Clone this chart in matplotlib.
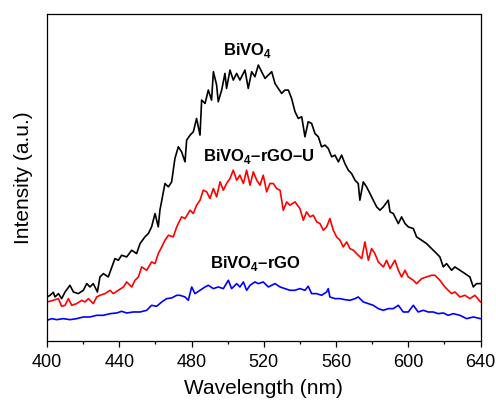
import matplotlib
matplotlib.use("Agg")
import matplotlib.pyplot as plt
from matplotlib.ticker import MultipleLocator

plt.rcParams['font.family'] = ['Liberation Sans', 'DejaVu Sans']
plt.rcParams['mathtext.fontset'] = 'custom'
plt.rcParams['mathtext.bf'] = 'Liberation Sans:bold'
plt.rcParams['mathtext.rm'] = 'Liberation Sans:bold'

# BiVO4
wl_bivo4 = [400, 401.7, 403.5, 404.4, 406.3, 408.1, 410, 412.7, 414.6, 417.3, 420.1, 422, 423.8, 425.6,
            427.9, 429.3, 431.2, 433.9, 437.6, 439.5, 441.3, 444.1, 446.9, 449.6, 451.5, 454.2, 456.1,
            457.9, 459.8, 461.6, 462.5, 465.3, 467.2, 469, 470.8, 472.7, 474.5, 476.4, 477.3, 479.2, 481,
            482.8, 484.7, 485.6, 487.5, 489.3, 491.1, 492.1, 493.9, 494.8, 496.7, 498.5, 499.4, 501.3,
            503.1, 505, 506.8, 509.6, 511.4, 513.3, 515.1, 517, 518.8, 520.7, 522.5, 524.4, 526.2, 528,
            529.9, 531.7, 533.6, 535.4, 537.3, 539.1, 541, 542.8, 544.6, 546.5, 548.3, 550.2, 552, 553.9,
            555.7, 557.6, 559.4, 561.3, 563.1, 564.9, 566.8, 568.6, 570.5, 572.3, 573.2, 575.1, 576.9,
            578.8, 580.6, 582.5, 584.3, 586.2, 588.9, 589.9, 591.7, 594.5, 596.3, 598.2, 600, 602.8, 604.6,
            607.4, 610.1, 612.9, 615.7, 617.5, 619.4, 621.2, 624, 625.8, 628.6, 631.4, 634.1, 636, 637.8, 640]
int_bivo4 = [132, 137, 146, 132, 142, 127, 147, 167, 147, 142, 152, 172, 162, 172,
             147, 192, 202, 192, 247, 242, 257, 252, 272, 262, 292, 312, 322,
             342, 382, 342, 392, 472, 462, 477, 547, 582, 567, 537, 602, 617, 627,
             667, 617, 722, 712, 752, 722, 807, 767, 717, 752, 802, 757, 812,
             782, 802, 782, 812, 757, 807, 792, 827, 807, 787, 797, 807, 772, 757,
             742, 752, 752, 727, 687, 667, 672, 612, 657, 652, 622, 612, 582, 587,
             577, 552, 557, 537, 557, 532, 512, 502, 482, 472, 422, 477, 462,
             442, 422, 402, 392, 402, 422, 387, 382, 352, 372, 352, 342, 337, 312,
             302, 292, 277, 262, 252, 222, 232, 212, 222, 212, 202, 192, 162, 172, 172]

# BiVO4-rGO-U
wl_rgo_u = [400, 403.5, 406.3, 408.1, 410, 411.8, 413.7, 416.4, 419.2, 421, 422.9, 425.6, 427.5, 429.3,
            432.1, 434.9, 436.7, 439.5, 442.3, 444.1, 446.9, 448.7, 450.6, 452.4, 455.2, 457.9, 459.8,
            461.6, 463.5, 465.3, 467.2, 469.9, 471.8, 474.5, 476.4, 479.2, 481, 482.8, 484.7, 486.5,
            488.4, 490.2, 492.1, 493.9, 495.8, 497.6, 499.4, 501.3, 503.1, 505, 506.8, 508.7, 510.5,
            512.4, 514.2, 516.1, 517.9, 519.7, 521.6, 523.4, 525.3, 527.1, 529, 530.8, 532.7, 534.5,
            537.3, 540, 541.9, 543.7, 545.6, 547.4, 549.3, 551.1, 553, 554.8, 556.6, 558.5, 560.3,
            562.2, 564, 565.9, 567.7, 569.6, 571.4, 574.2, 576, 577.9, 579.7, 581.5, 583.4, 586.2, 588,
            589.9, 592.6, 594.5, 596.3, 598.2, 600, 602.8, 604.6, 607.4, 610.1, 612.9, 614.8, 617.5,
            620.3, 622.1, 624, 625.8, 628.6, 631.4, 634.1, 636.9, 640]
int_rgo_u = [117, 122, 127, 104, 107, 127, 107, 112, 122, 117, 127, 112, 132, 137,
             142, 152, 142, 152, 162, 177, 162, 182, 192, 222, 212, 237, 232,
             262, 282, 302, 317, 312, 342, 372, 367, 392, 382, 407, 422, 452,
             447, 427, 457, 432, 477, 452, 472, 487, 512, 482, 497, 472, 512,
             467, 507, 482, 467, 497, 447, 472, 472, 457, 452, 392, 417, 407,
             417, 397, 362, 387, 372, 377, 357, 352, 332, 342, 367, 332, 312,
             302, 282, 297, 277, 272, 262, 247, 297, 242, 277, 262, 237, 222, 242,
             217, 242, 212, 192, 212, 192, 182, 172, 187, 192, 197, 197, 182,
             162, 152, 142, 147, 132, 137, 127, 137, 117]

# BiVO4-rGO
wl_rgo = [400, 402.6, 405.4, 409, 412.7, 416.4, 420.1, 423.8, 427.5, 431.2, 434.9, 438.6, 441.3, 444.1,
          447.8, 451.5, 455.2, 457.9, 460.7, 463.5, 466.2, 469, 471.8, 473.6, 476.4, 478.2, 480.1, 481.9,
          484.7, 487.5, 489.3, 492.1, 494.8, 497.6, 500.4, 502.2, 505, 506.8, 508.7, 510.5, 512.4, 515.1,
          517, 519.7, 522.5, 524.4, 526.2, 529, 531.7, 534.5, 537.3, 540, 542.8, 544.6, 546.5, 549.3,
          552, 554.8, 555.7, 556.6, 559.4, 562.2, 564.9, 567.7, 570.5, 572.3, 575.1, 577.9, 580.6, 583.4,
          586.2, 588.9, 591.7, 594.5, 597.2, 600, 602.8, 605.5, 608.3, 611.1, 613.8, 616.6, 619.4, 622.1,
          624.9, 628.6, 632.3, 636, 640]
int_rgo = [62, 67, 64, 67, 64, 67, 72, 72, 77, 77, 82, 84, 89, 84,
           87, 87, 92, 107, 104, 117, 127, 129, 137, 137, 132, 122, 162, 142,
           152, 162, 167, 157, 162, 157, 182, 157, 172, 162, 177, 152, 167, 177,
           172, 177, 162, 167, 172, 162, 157, 152, 152, 157, 152, 164, 142, 142,
           137, 147, 157, 132, 127, 127, 124, 122, 127, 132, 117, 112, 107, 97,
           92, 97, 97, 107, 87, 87, 107, 87, 92, 87, 87, 82, 84, 77,
           82, 77, 67, 72, 67]

fig = plt.figure(figsize=(4.96, 4.01), dpi=100)
ax = fig.add_axes([0.0948, 0.1496, 0.874, 0.8155])

ax.plot(wl_bivo4, int_bivo4, color='black', lw=1.2)
ax.plot(wl_rgo_u, int_rgo_u, color='red', lw=1.2)
ax.plot(wl_rgo, int_rgo, color='blue', lw=1.2)

ax.set_xlim(400, 640)
ax.set_ylim(0, 980)
ax.xaxis.set_major_locator(MultipleLocator(40))
ax.xaxis.set_minor_locator(MultipleLocator(20))
ax.set_yticks([])
ax.tick_params(axis='x', which='major', direction='out', length=4, width=0.9, labelsize=13, pad=5)
ax.tick_params(axis='x', which='minor', direction='out', length=2.5, width=0.9)
for s in ax.spines.values():
    s.set_linewidth(0.9)

ax.set_xlabel('Wavelength (nm)', fontsize=15, labelpad=6)
ax.set_ylabel('Intensity (a.u.)', fontsize=15, labelpad=10)

ax.text(511.3, 872, r'BiVO$_4$', fontsize=12, fontweight='bold', ha='center', va='center')
ax.text(517.4, 554, r'BiVO$_4$–rGO–U', fontsize=12, fontweight='bold', ha='center', va='center')
ax.text(515.2, 233, r'BiVO$_4$–rGO', fontsize=12, fontweight='bold', ha='center', va='center')

fig.savefig('out.png', dpi=100)
